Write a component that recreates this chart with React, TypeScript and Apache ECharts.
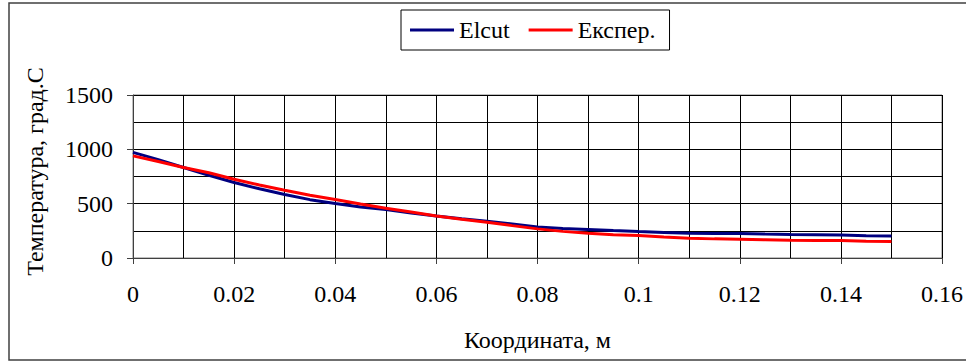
import React, { useEffect, useRef } from "react";
import * as echarts from "echarts";

const xCoords = [0, 0.005, 0.01, 0.015, 0.02, 0.025, 0.03, 0.035, 0.04, 0.045, 0.05, 0.055, 0.06, 0.065, 0.07, 0.075, 0.08, 0.085, 0.09, 0.095, 0.1, 0.105, 0.11, 0.115, 0.12, 0.125, 0.13, 0.135, 0.14, 0.145, 0.15];
const elcutValues = [972, 905, 833, 762, 695, 637, 584, 537, 501, 470, 446, 414, 387, 362, 338, 312, 286, 272, 262, 252, 243, 235, 228, 226, 225, 220, 216, 214, 212, 205, 203];
const experValues = [940, 888, 833, 785, 725, 672, 624, 578, 538, 497, 458, 423, 387, 357, 329, 298, 268, 245, 228, 215, 206, 193, 182, 176, 172, 168, 164, 162, 160, 153, 151];
const seriesNames = ["Elcut", "Експер."];
const xTitle = "Координата, м";
const yTitle = "Температура, град.С";

const FONT = "Liberation Serif";

export default function App() {
  const ref = useRef<HTMLDivElement>(null);
  useEffect(() => {
    document.body.style.margin = "0";
    const chart = echarts.init(ref.current!, null, { renderer: "svg" });
    chart.setOption({
      animation: false,
      backgroundColor: "#fff",
      textStyle: { fontFamily: FONT },
      grid: { left: 133, right: 24, top: 95, bottom: 104, show: true, borderColor: "#808080", borderWidth: 1 },
      legend: {
        data: seriesNames,
        left: 401,
        top: 10,
        orient: "horizontal",
        icon: "rect",
        itemWidth: 44,
        itemHeight: 3,
        itemGap: 19,
        borderColor: "#000",
        borderWidth: 1,
        padding: [8, 14, 8, 9],
        textStyle: { fontSize: 24, fontFamily: FONT, color: "#000" },
      },
      xAxis: {
        type: "value",
        min: 0,
        max: 0.16,
        interval: 0.02,
        name: xTitle,
        nameLocation: "middle",
        nameGap: 70,
        nameTextStyle: { fontSize: 24, fontFamily: FONT, color: "#000" },
        axisLine: { show: true, lineStyle: { color: "#404040", width: 1 } },
        axisTick: { show: true, length: 6, lineStyle: { color: "#404040" } },
        axisLabel: { fontSize: 24, fontFamily: FONT, color: "#000", margin: 24, formatter: (v: number) => String(+v.toFixed(4)) },
        splitLine: { show: true, lineStyle: { color: "#000", width: 1 } },
        minorTick: { show: false, splitNumber: 2 },
        minorSplitLine: { show: true, lineStyle: { color: "#000", width: 1 } },
      },
      yAxis: {
        type: "value",
        min: 0,
        max: 1500,
        interval: 500,
        name: yTitle,
        nameLocation: "middle",
        nameGap: 86,
        nameRotate: 90,
        nameTextStyle: { fontSize: 24, fontFamily: FONT, color: "#000", padding: [0, 0, 0, 10] },
        axisLine: { show: true, lineStyle: { color: "#404040", width: 1 } },
        axisTick: { show: true, length: 6, lineStyle: { color: "#404040" } },
        axisLabel: { fontSize: 24, fontFamily: FONT, color: "#000", margin: 20, formatter: (v: number) => String(v) },
        splitLine: { show: true, lineStyle: { color: "#000", width: 1 } },
        minorTick: { show: false, splitNumber: 2 },
        minorSplitLine: { show: true, lineStyle: { color: "#000", width: 1 } },
      },
      series: [
        {
          name: seriesNames[0],
          type: "line",
          showSymbol: false,
          symbol: "none",
          color: "#000080",
          lineStyle: { color: "#000080", width: 3 },
          data: xCoords.map((x, i) => [x, elcutValues[i]]),
        },
        {
          name: seriesNames[1],
          type: "line",
          showSymbol: false,
          symbol: "none",
          color: "#ff0000",
          lineStyle: { color: "#ff0000", width: 3 },
          data: xCoords.map((x, i) => [x, experValues[i]]),
        },
      ],
      graphic: [
        {
          type: "rect",
          shape: { x: 9, y: 3, width: 965, height: 357 },
          style: { fill: "none", stroke: "#404040", lineWidth: 1.5 },
          silent: true,
        },
      ],
    });
    return () => chart.dispose();
  }, []);
  return <div ref={ref} style={{ position: "fixed", left: 0, top: 0, width: 966, height: 362 }} />;
}
